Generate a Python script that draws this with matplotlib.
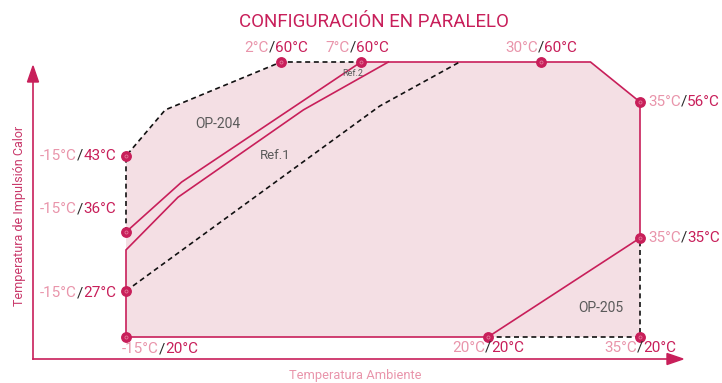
import numpy as np
import matplotlib
matplotlib.use("Agg")
import matplotlib.pyplot as plt
from matplotlib.patches import Polygon
from matplotlib.transforms import offset_copy

# ---------------- data (temperatures, °C) ----------------
# schematic axis: ambient temperature knots and supply temperature knots
x_temps = [-15, 2, 7, 20, 30, 35]
y_temps = [20, 27, 35, 36, 43, 56, 60]

# operating envelope (ambient, supply)
envelope_amb = [-15, -15, -10.7, 2, 32.5, 35, 35]
envelope_sup = [20, 43, 54.1, 60, 60, 56, 20]

# labelled points
pt_amb = [-15, -15, -15, -15, 2, 7, 30, 35, 35, 35, 20]
pt_sup = [20, 27, 36, 43, 60, 60, 60, 56, 35, 20, 20]

# curves
op204_amb = [-15, -8.9, 7]
op204_sup = [36, 40.6, 60]
ref1_amb = [-15, -15, -9.3, 3.4, 9.8]
ref1_sup = [20, 33.2, 39.2, 54.1, 60]
mid_dash_amb = [-15, 8.9, 17.1]
mid_dash_sup = [27, 55.0, 60]
top_dash_amb = [-15, -15, -10.7, 2, 7]
top_dash_sup = [36, 43, 54.1, 60, 60]
top_solid_amb = [7, 32.5, 35, 35]
top_solid_sup = [60, 60, 56, 35]
bottom_amb = [-15, 20]
bottom_sup = [20, 20]
op205_amb = [20, 35]
op205_sup = [20, 35]
op205_dash_amb = [20, 35, 35]
op205_dash_sup = [20, 20, 35]

# region names and where they sit (ambient, supply)
region_names = ["OP-204", "Ref.1", "Ref.2", "OP-205"]
region_amb = [-4.9, 1.4, 6.5, 33.0]
region_sup = [50.7, 43.2, 58.9, 24.4]

title = "CONFIGURACIÓN EN PARALELO"
xlabel = "Temperatura Ambiente"
ylabel = "Temperatura de Impulsión Calor"

# ---------------- styling / layout ----------------
W, H = 722, 383
x_pos = [126, 281, 361, 488, 541, 640]
y_pos = [H - 337, H - 291, H - 238, H - 232, H - 156, H - 102, H - 62]

CRIMSON = "#c81f5a"
LIGHT = "#e995ab"
DARK = "#2a2a2a"
FILL = "#f4dfe4"
GRAY = "#5a5a5a"
FONT = ["Roboto", "DejaVu Sans"]


def piecewise(t_knots, p_knots):
    t = np.asarray(t_knots, float)
    p = np.asarray(p_knots, float)

    def mk(a, b):
        def f(v):
            v = np.asarray(v, float)
            out = np.interp(v, a, b)
            lo_s = (b[1] - b[0]) / (a[1] - a[0])
            hi_s = (b[-1] - b[-2]) / (a[-1] - a[-2])
            out = np.where(v < a[0], b[0] + (v - a[0]) * lo_s, out)
            out = np.where(v > a[-1], b[-1] + (v - a[-1]) * hi_s, out)
            return out
        return f
    return mk(t, p), mk(p, t)


fx, ix = piecewise(x_temps, x_pos)
fy, iy = piecewise(y_temps, y_pos)

fig = plt.figure(figsize=(W / 100, H / 100), dpi=100)
ax = fig.add_axes([0, 0, 1, 1])
ax.set_xscale("function", functions=(fx, ix))
ax.set_yscale("function", functions=(fy, iy))
ax.set_xlim(float(ix(0)), float(ix(W)))
ax.set_ylim(float(iy(0)), float(iy(H)))
ax.axis("off")

# decoration axes in pixel space (axis arrows, axis titles)
deco = fig.add_axes([0, 0, 1, 1], zorder=-1)
deco.set_xlim(0, W)
deco.set_ylim(H, 0)
deco.axis("off")
deco.plot([33, 33], [359, 75], color=CRIMSON, lw=1.2)
deco.plot([33, 672], [359, 359], color=CRIMSON, lw=1.2)
deco.add_patch(Polygon([[33, 66], [27.5, 82], [38.5, 82]], closed=True, color=CRIMSON))
deco.add_patch(Polygon([[683, 359], [667, 353.5], [667, 364.5]], closed=True, color=CRIMSON))
deco.text(355, 376, xlabel, color=LIGHT, fontsize=9.3, ha="center", va="center", family=FONT)
deco.text(20, 216, ylabel, color="#c9386a", fontsize=9.0, ha="center", va="center",
          rotation=90, family=FONT)
deco.text(374, 22, title, color=CRIMSON, fontsize=13.5, ha="center", va="center", family=FONT)

# envelope fill
ax.add_patch(Polygon(np.column_stack([envelope_amb, envelope_sup]), closed=True,
                     facecolor=FILL, edgecolor="none", zorder=1))

solid_kw = dict(color=CRIMSON, lw=1.2, zorder=3, solid_joinstyle="miter")
dash_kw = dict(color="#111111", lw=1.2, zorder=3, dashes=(3, 2.2))

ax.plot(op204_amb, op204_sup, **solid_kw)
ax.plot(ref1_amb, ref1_sup, **solid_kw)
ax.plot(top_solid_amb, top_solid_sup, **solid_kw)
ax.plot(bottom_amb, bottom_sup, **solid_kw)
ax.plot(op205_amb, op205_sup, **solid_kw)
ax.plot(top_dash_amb, top_dash_sup, **dash_kw)
ax.plot(mid_dash_amb, mid_dash_sup, **dash_kw)
ax.plot(op205_dash_amb, op205_dash_sup, **dash_kw)

ax.plot(pt_amb, pt_sup, "o", ms=6.8, color=CRIMSON, zorder=5)
ax.plot(pt_amb, pt_sup, "o", ms=2.2, mfc="none", mec="#e37a9a", mew=0.6, zorder=6)

# region labels
region_sizes = [10, 9.5, 6.5, 10]
for name, a, s, fs in zip(region_names, region_amb, region_sup, region_sizes):
    ax.text(a, s, name, color=GRAY, fontsize=fs, ha="center", va="center",
            family=FONT, zorder=7)

# point labels: (index into points, alignment, dx px, dy px)
label_spec = [
    (0, "left", -4, -12),
    (1, "right", -10, -2),
    (2, "right", -10, 23),
    (3, "right", -10, 0),
    (4, "center", -5, 14),
    (5, "center", -4, 14),
    (6, "center", 0, 14),
    (7, "left", 8, 0),
    (8, "left", 8, 0),
    (9, "center", 0, -11),
    (10, "center", 0, -11),
]

groups = []
for idx, ha, dx, dy in label_spec:
    a, s = pt_amb[idx], pt_sup[idx]
    parts = [(f"{a}°C", LIGHT), ("/", DARK), (f"{s}°C", CRIMSON)]
    texts = [ax.text(a, s, p, color=c, fontsize=11, ha="left", va="center",
                     family=FONT, zorder=8) for p, c in parts]
    groups.append((texts, ha, dx, dy))

fig.canvas.draw()
renderer = fig.canvas.get_renderer()
for texts, ha, dx, dy in groups:
    widths = [t.get_window_extent(renderer).width for t in texts]
    total = sum(widths)
    start = {"left": 0, "center": -total / 2, "right": -total}[ha] + dx
    off = start
    for t, w in zip(texts, widths):
        t.set_transform(offset_copy(ax.transData, fig=fig, x=off, y=dy, units="dots"))
        off += w

fig.savefig("out.png", dpi=100)
